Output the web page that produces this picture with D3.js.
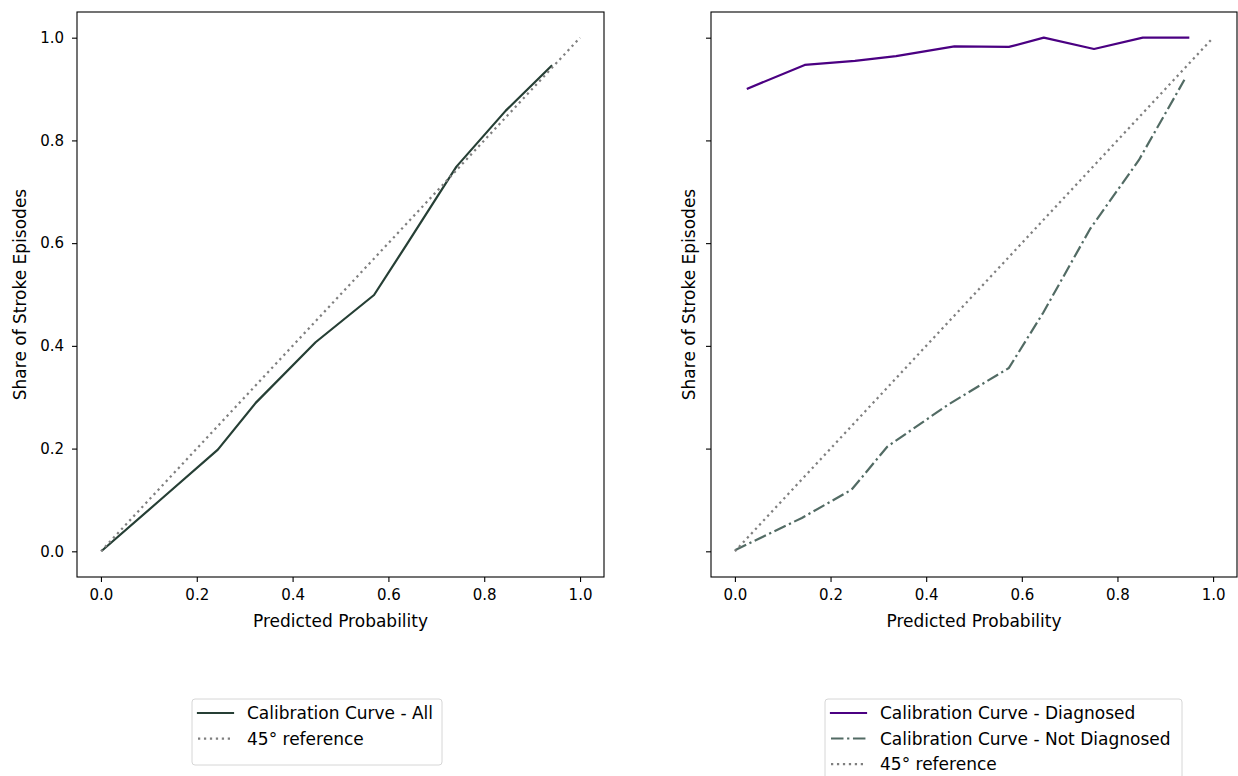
<!DOCTYPE html>
<html><head><meta charset="utf-8">
<script src="https://cdn.jsdelivr.net/npm/d3@7"></script>
<style>
body{margin:0;background:#fff;}
text{font-family:"DejaVu Sans",sans-serif;fill:#000;}
</style></head>
<body><svg id="c" width="1238" height="776"></svg>
<script>
// ---- data ----
const allX = [0.003, 0.12, 0.244, 0.323, 0.448, 0.570, 0.64, 0.742, 0.845, 0.94];
const allY = [0.002, 0.097, 0.198, 0.289, 0.407, 0.499, 0.60, 0.749, 0.858, 0.945];
const diagX = [0.027, 0.146, 0.251, 0.337, 0.459, 0.573, 0.646, 0.751, 0.853, 0.948];
const diagY = [0.901, 0.947, 0.955, 0.964, 0.983, 0.982, 1.0, 0.978, 1.0, 1.0];
const notDiagX = [0.0, 0.14, 0.244, 0.319, 0.445, 0.573, 0.645, 0.743, 0.845, 0.94];
const notDiagY = [0.002, 0.065, 0.120, 0.204, 0.285, 0.357, 0.465, 0.628, 0.762, 0.918];
const refX = [0, 1];
const refY = [0, 1];
const tickVals = [0.0, 0.2, 0.4, 0.6, 0.8, 1.0];

const svg = d3.select("#c");
const plotTop = 12, plotBottom = 577;
const tickFont = 15, labelFont = 17;

function panel(left, right, showYLabels, series, legend) {
  const x = d3.scaleLinear().domain([-0.05, 1.05]).range([left, right]);
  const y = d3.scaleLinear().domain([-0.05, 1.05]).range([plotBottom, plotTop]);
  const g = svg.append("g");
  const line = d3.line().x(d => x(d[0])).y(d => y(d[1]));
  series.forEach(s => {
    g.append("path").datum(d3.zip(s.xs, s.ys))
      .attr("d", line).attr("fill", "none")
      .attr("stroke", s.color).attr("stroke-width", s.w)
      .attr("stroke-dasharray", s.dash || null)
      .attr("stroke-linecap", s.cap || "square")
      .attr("stroke-linejoin", "round");
  });
  const xa = g.append("g").attr("transform", `translate(0,${plotBottom})`)
    .call(d3.axisBottom(x).tickValues(tickVals).tickFormat(d3.format(".1f")).tickSizeOuter(0).tickSize(5).tickPadding(5));
  const ya = g.append("g").attr("transform", `translate(${left},0)`)
    .call(d3.axisLeft(y).tickValues(tickVals).tickFormat(showYLabels ? d3.format(".1f") : () => "").tickSizeOuter(0).tickSize(5).tickPadding(8));
  [xa, ya].forEach(a => {
    a.select(".domain").remove();
    a.selectAll("line").attr("stroke", "#000").attr("stroke-width", 1.1);
    a.selectAll("text").attr("font-size", tickFont).attr("font-family", "DejaVu Sans");
  });
  xa.selectAll("text").attr("dy", "0.87em");
  g.append("rect").attr("x", left).attr("y", plotTop).attr("width", right - left).attr("height", plotBottom - plotTop)
    .attr("fill", "none").attr("stroke", "#000").attr("stroke-width", 1.1);
  g.append("text").attr("x", (left + right) / 2).attr("y", 627).attr("text-anchor", "middle")
    .attr("font-size", labelFont).text("Predicted Probability");
  const ylx = showYLabels ? 26 : left - 16;
  g.append("text").attr("transform", `translate(${ylx},${(plotTop + plotBottom) / 2}) rotate(-90)`)
    .attr("text-anchor", "middle").attr("font-size", labelFont).text("Share of Stroke Episodes");
  // legend
  const lg = svg.append("g");
  const rowH = 25.5;
  lg.append("rect").attr("x", legend.x).attr("y", 699).attr("width", legend.w)
    .attr("height", 14 + rowH * series.length + 1).attr("rx", 3)
    .attr("fill", "#fff").attr("stroke", "#d6d6d6").attr("stroke-width", 1);
  legend.order.forEach((si, i) => {
    const s = series[si];
    const cy = 713 + i * rowH;
    lg.append("line").attr("x1", legend.x + 6).attr("x2", legend.x + 41).attr("y1", cy).attr("y2", cy)
      .attr("stroke", s.color).attr("stroke-width", s.w).attr("stroke-dasharray", s.dash || null)
      .attr("stroke-linecap", s.cap || "square");
    lg.append("text").attr("x", legend.x + 55).attr("y", cy + 6).attr("font-size", labelFont).text(s.label);
  });
}

const refStyle = {xs: refX, ys: refY, color: "#7f7f7f", w: 2.25, dash: "2.25,3.7", cap: "butt", label: "45° reference"};

panel(77, 604, true, [
  {xs: allX, ys: allY, color: "#263f35", w: 2.2, label: "Calibration Curve - All"},
  refStyle
], {x: 192, w: 250, order: [0, 1]});

panel(711, 1237, false, [
  {xs: diagX, ys: diagY, color: "#4b0082", w: 2.2, label: "Calibration Curve - Diagnosed"},
  {xs: notDiagX, ys: notDiagY, color: "#526b64", w: 2.2, dash: "12.5,3.6,2.25,3.6", cap: "butt", label: "Calibration Curve - Not Diagnosed"},
  refStyle
], {x: 825, w: 357, order: [0, 1, 2]});
</script></body></html>
